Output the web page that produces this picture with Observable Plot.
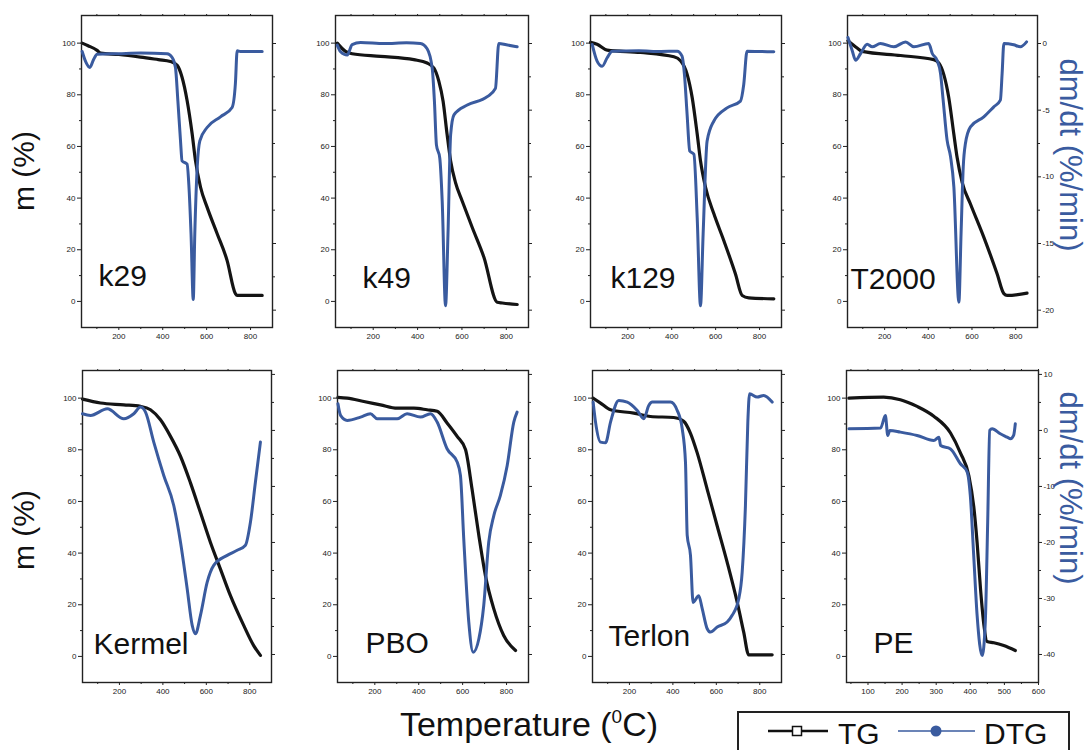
<!DOCTYPE html>
<html><head><meta charset="utf-8">
<script src="https://cdn.jsdelivr.net/npm/d3@7"></script>
<script src="https://cdn.jsdelivr.net/npm/@observablehq/plot@0.6"></script>
<style>
body{margin:0;background:#fff;}
#fig{position:relative;width:1090px;height:750px;overflow:hidden;font-family:"Liberation Sans",Arial,sans-serif;background:#fff;}
#fig svg.p{position:absolute;}
</style></head><body><div id="fig"></div>
<script>
// ---------- data: [temperature °C, value] ----------
// TG in m (%), DTG in dm/dt (%/min)
const k29_TG = [[33,100],[60,99],[101,97.2],[117,96.1],[200,95.6],[299,94.6],[380,93.6],[435,92.9],[466,91.4],[488,86.8],[511,77.8],[534,64.9],[549,54.6],[572,44.3],[602,36.5],[648,26.2],[693,15.9],[731,3],[739,2.3],[800,2.3],[853,2.3]];
const k29_DTG = [[33,-0.6],[50,-1.4],[68,-1.8],[85,-1.2],[101,-0.8],[200,-0.76],[300,-0.72],[420,-0.76],[443,-1.05],[458,-1.8],[469,-4.3],[481,-7.3],[488,-8.8],[511,-9.05],[519,-10.6],[529,-14.3],[539,-19.2],[546,-14.3],[557,-9.3],[569,-7.3],[602,-6.3],[663,-5.5],[716,-4.8],[731,-3.0],[739,-0.55],[754,-0.6],[800,-0.6],[853,-0.6]];

const k49_TG = [[38,100],[75,96.8],[105,95.9],[233,94.9],[383,93.6],[443,92.3],[473,90.4],[496,85.2],[515,77.5],[533,64.7],[549,54.4],[571,46],[601,38.9],[646,28.7],[699,17.1],[759,-0.3],[782,-0.6],[849,-1.2]];
const k49_DTG = [[38,-0.12],[53,-0.62],[83,-0.87],[105,-0.08],[143,0.08],[250,0],[350,0.05],[413,0],[443,-0.39],[466,-1.86],[476,-4.36],[485,-7.6],[500,-8.59],[511,-11.84],[526,-19.67],[537,-14.32],[549,-6.84],[564,-5.35],[624,-4.61],[714,-3.99],[751,-3.37],[766,0],[800,-0.1],[849,-0.25]];

const k129_TG = [[30,100.3],[60,99.6],[106,97.3],[258,96.4],[410,94.7],[440,93.2],[470,88],[493,79],[516,64.8],[531,54.5],[554,44.2],[592,33.9],[637,23.6],[690,10.7],[721,2.3],[751,1.4],[865,1]];
const k129_DTG = [[38,-0.08],[60,-1.32],[83,-1.71],[106,-1.07],[129,-0.58],[250,-0.55],[350,-0.6],[425,-0.58],[447,-0.95],[458,-2.33],[470,-5.31],[482,-8.06],[501,-8.31],[516,-13.06],[531,-19.67],[543,-14.3],[561,-7.33],[592,-5.81],[652,-4.83],[713,-4.32],[728,-3.08],[743,-0.58],[800,-0.6],[865,-0.62]];

const T2000_TG = [[32,100.9],[74,98.1],[97,96.8],[273,95.2],[425,93.6],[448,92.3],[471,87.8],[494,78.8],[517,64.7],[532,55.7],[555,46.1],[593,37.7],[654,24.9],[715,10.7],[746,3],[761,2.3],[852,3.2]];
const T2000_DTG = [[32,0.45],[51,-0.5],[67,-1.25],[90,-0.75],[120,-0.05],[143,-0.25],[181,0],[242,-0.25],[296,0.12],[334,-0.25],[402,0],[418,-0.75],[440,-1.25],[456,-2.25],[468,-4.25],[486,-7.25],[502,-8.5],[517,-10.75],[540,-19.4],[550,-14.25],[560,-9.25],[570,-7.5],[593,-6.25],[654,-5.5],[700,-4.75],[730,-4.25],[738,-2.25],[746,0],[791,-0.1],[822,-0.25],[850,0.12]];

const Kermel_TG = [[30,99.6],[113,98.1],[220,97.4],[297,96.8],[343,95.5],[389,91.6],[435,85.2],[481,77.5],[527,67.2],[573,55.7],[619,44.1],[665,33.8],[711,23.5],[772,12],[818,4.2],[849,0.4]];
const Kermel_DTG = [[30,2.98],[67,2.68],[144,3.87],[220,2.08],[266,2.98],[297,4.17],[320,3.27],[358,-2.08],[404,-8.04],[450,-13.4],[481,-19.9],[512,-28.3],[535,-34.8],[550,-36.3],[573,-33.0],[604,-27.1],[634,-24.1],[696,-22.3],[742,-21.4],[780,-20.5],[803,-16.4],[826,-9.2],[849,-2.08]];

const PBO_TG = [[32,100.3],[74,100],[150,98.7],[226,97.4],[302,96.1],[378,96.1],[438,95.5],[484,94.9],[529,90.4],[575,85.2],[613,80.1],[643,64.7],[674,46.7],[704,31.2],[742,18.4],[787,8.1],[841,2.3]];
const PBO_DTG = [[32,4.76],[44,2.68],[74,1.79],[135,2.38],[180,2.98],[211,2.08],[302,2.08],[347,2.98],[408,2.38],[454,2.98],[484,1.49],[529,-3.27],[575,-5.65],[590,-8.04],[605,-19.3],[628,-34.2],[648,-39.6],[674,-37.2],[696,-31.3],[719,-19.9],[742,-15.2],[772,-11.6],[803,-6.25],[833,1.49],[848,3.27]];

const Terlon_TG = [[33,100],[67,98.1],[113,95.5],[220,94.2],[297,92.9],[404,92.5],[450,91],[481,86.4],[512,78.8],[558,64.7],[604,50.5],[650,36.4],[696,21],[726,9.4],[749,0.6],[857,0.6]];
const Terlon_DTG = [[33,5.06],[44,1.49],[67,-2.08],[90,-2.2],[113,1.49],[151,5.36],[190,5.06],[236,3.57],[266,2.08],[289,4.46],[305,5.06],[389,5.06],[420,3.57],[443,0.3],[458,-5.65],[466,-18.75],[481,-22.3],[493,-30.7],[519,-29.5],[535,-31.8],[558,-35.4],[573,-36],[604,-35.1],[650,-34.2],[673,-33],[703,-30.1],[719,-25.3],[734,-13.4],[745,1.49],[753,6.55],[788,5.95],[818,6.25],[857,5.06]];

const PE_TG = [[44,100],[146,100.4],[195,99.4],[244,96.8],[293,93],[342,86.5],[371,78.8],[396,69.8],[410,58.2],[420,44.1],[430,26.1],[440,12],[449,5.8],[469,5.3],[498,4.2],[532,2.3]];
const PE_DTG = [[44,0.3],[137,0.42],[151,2.68],[158,-0.9],[164,0],[195,-0.3],[244,-0.9],[293,-1.8],[308,-1.2],[313,-2.7],[342,-3.3],[371,-5.95],[391,-7.44],[400,-11.6],[410,-22.3],[420,-33],[435,-40.2],[444,-34.2],[451,-16.4],[457,0],[464,0.3],[488,-0.6],[508,-1.2],[518,-1.5],[527,-0.9],[532,1.19]];

// ---------- ticks ----------
const mTicks = [0, 20, 40, 60, 80, 100];
const mMinor = [10, 30, 50, 70, 90];
const tTicks = [200, 400, 600, 800];
const tMinor = [100, 300, 500, 700];
const peTicks = [100, 200, 300, 400, 500, 600];
const peMinor = [50, 150, 250, 350, 450, 550];
const dTicksTop = [0, -5, -10, -15, -20];
const dMinorTop = [-2.5, -7.5, -12.5, -17.5];
const dTicksBottom = [10, 0, -10, -20, -30, -40];
const dMinorBottom = [5, -5, -15, -25, -35];

const names = ["k29", "k49", "k129", "T2000", "Kermel", "PBO", "Terlon", "PE"];
const tgSeries = [k29_TG, k49_TG, k129_TG, T2000_TG, Kermel_TG, PBO_TG, Terlon_TG, PE_TG];
const dtgSeries = [k29_DTG, k49_DTG, k129_DTG, T2000_DTG, Kermel_DTG, PBO_DTG, Terlon_DTG, PE_DTG];

// layout (pixels)
const frameLeft = [81, 335, 590, 847, 82, 337, 592, 846];
const frameRight = [272, 528, 781, 1037, 271, 528, 781, 1038];
const frameTop = [15, 15, 15, 15, 370, 370, 370, 370];
const labelDx = [17, 27, 20, 3, 11, 28, 16, 27];
const labelUp = [42, 40, 40, 39, 29, 30, 37, 30];

const FH = 312, ML = 30, MR = 30, MT = 6, MB = 24;
const mDomain = [-10.1, 110.7];
const BLUE = "#3a5b9f";
const fig = document.getElementById("fig");
const baseStyle = {fontFamily: "'Liberation Sans', Arial, sans-serif", fontSize: "8px", color: "#222", background: "transparent", overflow: "visible"};
const fmt = d => String(d);
const blank = () => "";

names.forEach((name, i) => {
  const isPE = name === "PE";
  const top = i < 4;
  const rightCol = i % 4 === 3;
  const W = frameRight[i] - frameLeft[i];
  const xDomain = isPE ? [37, 600] : [30, 900];
  const xt = isPE ? peTicks : tTicks;
  const xm = isPE ? peMinor : tMinor;
  const common = {
    width: W + ML + MR, height: FH + MT + MB,
    marginLeft: ML, marginRight: MR, marginTop: MT, marginBottom: MB,
    style: baseStyle
  };
  const tg = Plot.plot({
    ...common,
    x: {domain: xDomain},
    y: {domain: mDomain},
    marks: [
      Plot.axisY({ticks: mTicks, tickSize: 4, tickPadding: 2, tickFormat: fmt, label: null}),
      Plot.axisY({ticks: mMinor, tickSize: 2, tickFormat: blank, label: null}),
      Plot.axisX({ticks: xt, tickSize: 3, tickPadding: 3, tickFormat: fmt, label: null}),
      Plot.axisX({ticks: xm, tickSize: 2, tickFormat: blank, label: null}),
      Plot.axisX({anchor: "top", ticks: xt.concat(xm), tickSize: 2, tickFormat: blank, label: null}),
      Plot.line(tgSeries[i], {x: d => d[0], y: d => d[1], stroke: "#141414", strokeWidth: 3.2, curve: "monotone-x"}),
      Plot.frame({stroke: "#222", strokeWidth: 1.4}),
      Plot.text([name], {text: d => d, frameAnchor: "bottom-left", textAnchor: "start", lineAnchor: "bottom", dx: labelDx[i], dy: -labelUp[i], fontSize: 30, fill: "#111"})
    ]
  });
  const dDomain = top ? [-21.3, 2.1] : [-45, 10.7];
  const dt = top ? dTicksTop : dTicksBottom;
  const dm = top ? dMinorTop : dMinorBottom;
  const dtg = Plot.plot({
    ...common,
    x: {domain: xDomain, axis: null},
    y: {domain: dDomain},
    marks: [
      Plot.axisY({anchor: "right", ticks: dt, tickSize: 3, tickPadding: 2, tickFormat: rightCol ? fmt : blank, label: null}),
      Plot.axisY({anchor: "right", ticks: dm, tickSize: 2, tickFormat: blank, label: null}),
      Plot.line(dtgSeries[i], {x: d => d[0], y: d => d[1], stroke: BLUE, strokeWidth: 3, curve: "monotone-x"})
    ]
  });
  for (const svg of [tg, dtg]) {
    svg.classList.add("p");
    svg.style.left = (frameLeft[i] - ML) + "px";
    svg.style.top = (frameTop[i] - MT) + "px";
    fig.appendChild(svg);
  }
});

// ---------- figure-level titles and legend ----------
const ns = "http://www.w3.org/2000/svg";
const over = document.createElementNS(ns, "svg");
over.setAttribute("width", 1090); over.setAttribute("height", 750);
over.setAttribute("class", "p");
over.style.left = "0px"; over.style.top = "0px";
over.innerHTML = `
<g font-family="'Liberation Sans', Arial, sans-serif">
  <text transform="translate(34,171) rotate(-90)" text-anchor="middle" font-size="30" fill="#111">m (%)</text>
  <text transform="translate(34,530) rotate(-90)" text-anchor="middle" font-size="30" fill="#111">m (%)</text>
  <text transform="translate(1060,155) rotate(90)" text-anchor="middle" font-size="31" fill="${BLUE}">dm/dt (%/min)</text>
  <text transform="translate(1060,488) rotate(90)" text-anchor="middle" font-size="31" fill="${BLUE}">dm/dt (%/min)</text>
  <text x="529" y="736" text-anchor="middle" font-size="34" fill="#111">Temperature (<tspan font-size="19" dy="-13">0</tspan><tspan dy="13">C)</tspan></text>
  <rect x="738" y="712" width="331" height="60" fill="none" stroke="#222" stroke-width="2"/>
  <line x1="768" x2="828" y1="731" y2="731" stroke="#111" stroke-width="2.5"/>
  <rect x="792.5" y="726.5" width="9" height="9" fill="#fff" stroke="#111" stroke-width="1.5"/>
  <text x="838" y="744" font-size="30" fill="#111">TG</text>
  <line x1="898" x2="975" y1="731" y2="731" stroke="${BLUE}" stroke-width="1.6"/>
  <circle cx="936" cy="731" r="5.5" fill="${BLUE}"/>
  <text x="984" y="744" font-size="30" fill="#111">DTG</text>
</g>`;
fig.appendChild(over);
</script></body></html>
